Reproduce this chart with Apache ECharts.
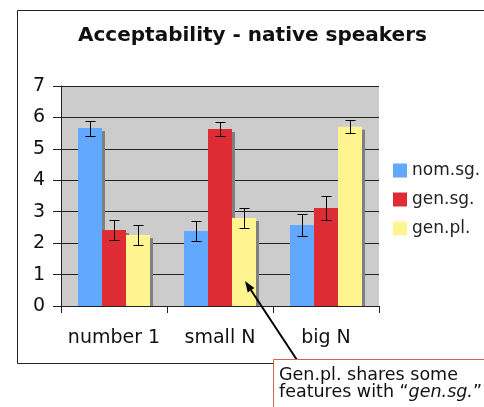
<!DOCTYPE html>
<html>
<head>
<meta charset="utf-8">
<script src="https://cdn.jsdelivr.net/npm/echarts@6/dist/echarts.min.js"></script>
<style>
html,body{margin:0;padding:0;background:#fff;}
#chart{width:484px;height:407px;}
</style>
</head>
<body>
<div id="chart"></div>
<script>
// data
var categories = ['number 1', 'small N', 'big N'];
var seriesNames = ['nom.sg.', 'gen.sg.', 'gen.pl.'];
var nomSg = [5.66, 2.39, 2.58];
var genSg = [2.42, 5.63, 3.12];
var genPl = [2.26, 2.80, 5.70];
// half length of the error bars
var nomSgErr = [0.24, 0.32, 0.34];
var genSgErr = [0.31, 0.21, 0.38];
var genPlErr = [0.33, 0.32, 0.21];
var yTicks = [0, 1, 2, 3, 4, 5, 6, 7];
var colors = ['#63a8ff', '#dd2c34', '#fff48f'];

var FONT = 'DejaVu Sans';
var BAR_W = 24;

var values = [nomSg, genSg, genPl];
var errs = [nomSgErr, genSgErr, genPlErr];

var errData = [];
for (var s = 0; s < 3; s++) {
	for (var c = 0; c < categories.length; c++) {
		errData.push([c, values[s][c], errs[s][c], s]);
	}
}

function barSeries(i){
	return {
		name: seriesNames[i],
		type: 'bar',
		data: values[i],
		barWidth: BAR_W,
		barGap: '0%',
		itemStyle: {color: colors[i]},
		z: 3
	};
}

// gray drop shadow behind each bar, ends at the axis
function renderShadow(params, api){
	var c = api.value(0), v = api.value(1), s = api.value(3);
	var dx = (s - 1) * BAR_W;
	var top = api.coord([c, v]);
	var base = api.coord([c, 0]);
	var x = top[0] + dx - BAR_W / 2 + 3;
	return {
		type: 'rect',
		shape: {x: x, y: top[1] + 3, width: BAR_W, height: base[1] - top[1] - 3},
		style: {fill: '#808080'}
	};
}

function renderErr(params, api){
	var c = api.value(0), v = api.value(1), e = api.value(2), s = api.value(3);
	var dx = (s - 1) * BAR_W;
	var top = api.coord([c, v + e]);
	var bot = api.coord([c, v - e]);
	var x = Math.round(top[0] + dx) + 0.5;
	var y1 = Math.round(top[1]) + 0.5, y2 = Math.round(bot[1]) + 0.5;
	var st = {stroke: '#000', lineWidth: 1};
	return {
		type: 'group',
		children: [
			{type: 'line', shape: {x1: x, y1: y1, x2: x, y2: y2}, style: st},
			{type: 'line', shape: {x1: x - 5, y1: y1, x2: x + 5, y2: y1}, style: st},
			{type: 'line', shape: {x1: x - 5, y1: y2, x2: x + 5, y2: y2}, style: st}
		]
	};
}

// arrow for the callout
var ax1 = 297, ay1 = 360, ax2 = 245, ay2 = 281;
var len = Math.sqrt((ax2-ax1)*(ax2-ax1) + (ay2-ay1)*(ay2-ay1));
var ux = (ax2-ax1)/len, uy = (ay2-ay1)/len;
var bx = ax2 - 11*ux, by = ay2 - 11*uy;
var head = [[ax2, ay2], [bx - 4*uy, by + 4*ux], [bx + 4*uy, by - 4*ux]];

var myChart = echarts.init(document.getElementById('chart'));
var option = {
	animation: false,
	backgroundColor: '#fff',
	title: {
		text: 'Acceptability - native speakers',
		left: 78,
		top: 26,
		padding: 0,
		textStyle: {fontFamily: FONT, fontSize: 20, fontWeight: 'bold', color: '#111'}
	},
	legend: {
		orient: 'vertical',
		left: 393,
		top: 162,
		padding: 0,
		itemWidth: 14,
		itemHeight: 14,
		itemGap: 12,
		icon: 'rect',
		data: seriesNames,
		textStyle: {fontFamily: FONT, fontSize: 17, color: '#222'}
	},
	grid: {
		left: 61, right: 105, top: 86, bottom: 101,
		show: true,
		backgroundColor: '#cccccc',
		borderWidth: 0
	},
	xAxis: {
		type: 'category',
		data: categories,
		z: 10,
		axisLine: {lineStyle: {color: '#222', width: 1}},
		axisTick: {show: true, alignWithLabel: false, length: 7, lineStyle: {color: '#222'}},
		axisLabel: {fontFamily: FONT, fontSize: 19, color: '#111', margin: 23, interval: 0}
	},
	yAxis: {
		type: 'value',
		min: yTicks[0],
		max: yTicks[yTicks.length - 1],
		interval: 1,
		axisLine: {show: true, lineStyle: {color: '#222', width: 1}},
		axisTick: {show: true, length: 8, lineStyle: {color: '#222'}},
		axisLabel: {fontFamily: FONT, fontSize: 19, color: '#111', margin: 16},
		splitLine: {show: true, lineStyle: {color: '#222', width: 1}}
	},
	series: [
		barSeries(0),
		barSeries(1),
		barSeries(2),
		{
			type: 'custom',
			name: 'shadow',
			data: errData,
			encode: {x: 0, y: 1},
			renderItem: renderShadow,
			z: 2,
			silent: true
		},
		{
			type: 'custom',
			name: 'err',
			data: errData,
			encode: {x: 0, y: 1},
			renderItem: renderErr,
			z: 5,
			silent: true
		}
	],
	graphic: [
		{type: 'rect', z: -10, shape: {x: 17.5, y: 10.5, width: 500, height: 353}, style: {fill: null, stroke: '#222', lineWidth: 1}},
		{type: 'line', z: 100, shape: {x1: ax1, y1: ay1, x2: bx, y2: by}, style: {stroke: '#000', lineWidth: 2}},
		{type: 'polygon', z: 100, shape: {points: head}, style: {fill: '#000'}},
		{type: 'rect', z: 100, shape: {x: 273.5, y: 359.5, width: 240, height: 60}, style: {fill: '#fff', stroke: '#e0604f', lineWidth: 1}},
		{
			type: 'text', z: 101, left: 279, top: 366,
			style: {
				text: 'Gen.pl. shares some\nfeatures with \u201c{i|gen.sg.}\u201d',
				fontFamily: FONT, fontSize: 17.5, lineHeight: 17, fill: '#111',
				rich: {i: {fontFamily: FONT, fontSize: 17.5, fontStyle: 'italic', fill: '#111', lineHeight: 17}}
			}
		}
	]
};
myChart.setOption(option);
</script>
</body>
</html>
